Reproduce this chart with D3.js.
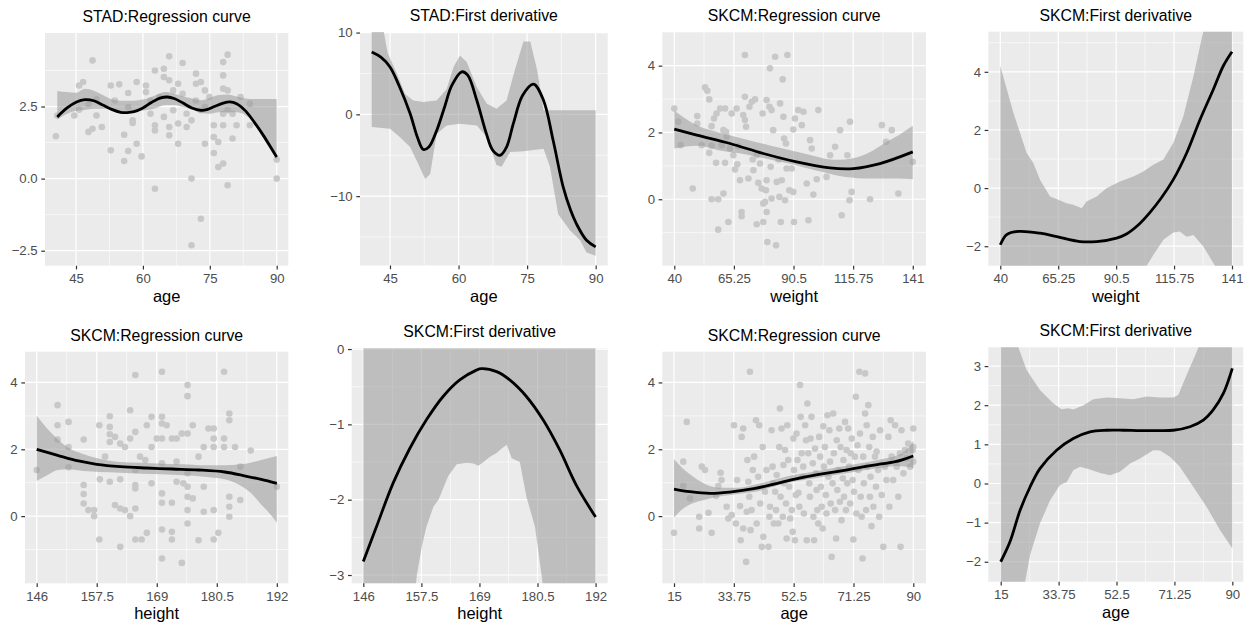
<!DOCTYPE html>
<html>
<head>
<meta charset="utf-8">
<title>Regression curves and first derivatives</title>
<script src="https://cdnjs.cloudflare.com/ajax/libs/d3/7.8.5/d3.min.js"></script>
<style>
  body { margin: 0; background: #fff; }
  .js-container { width: 1259px; height: 633px; }
  svg text { font-family: "Liberation Sans", Arial, Helvetica, sans-serif; }
</style>
</head>
<body>
<div class="js-container"></div>
<script>
;(function() {
  'use strict';

  // ---- STAD / age ----
  var stadAgePoints = [[40.5,1.47],[40.8,2.19],[44.6,2.19],[45.7,2.39],[45.7,3.23],[46.6,3.35],[47.8,2.6],[47.8,1.62],
    [48.7,4.1],[48.7,1.73],[49.6,2.19],[49.6,2.75],[50.8,1.79],[52.8,0.98],[52.8,3.23],[53.7,2.71],[54.7,3.27],
    [55.8,1.52],[55.8,0.61],[56.7,2.48],[56.7,0.96],[56.7,2.97],[57.7,2.02],[57.7,1.93],[58.6,3.35],[58.6,1.21],
    [59.7,0.77],[60.7,3.23],[60.7,3.0],[61.7,2.25],[61.7,2.71],[62.7,3.75],[62.7,1.85],[62.7,1.67],[62.7,-0.35],
    [63.7,2.83],[64.7,3.81],[64.7,3.52],[64.7,2.14],[65.9,4.24],[65.9,3.41],[65.9,1.79],[65.9,1.5],[66.8,2.37],
    [66.8,3.06],[67.9,3.29],[67.9,1.91],[67.9,1.21],[68.9,4.01],[68.9,2.94],[69.8,2.25],[69.8,1.79],[70.9,0.0],
    [70.9,-2.31],[70.9,2.02],[71.9,3.64],[71.9,3.29],[71.9,2.71],[73.0,3.35],[73.0,2.37],[73.0,-1.39],[73.9,1.21],
    [73.9,3.06],[73.9,2.48],[74.9,2.83],[75.9,1.85],[75.9,0.89],[75.9,1.44],[76.9,1.27],[76.9,0.4],[78.0,4.04],
    [78.0,3.58],[78.0,3.12],[78.0,0.52],[78.0,1.85],[78.0,2.25],[79.0,4.3],[79.0,-0.23],[79.0,3.06],[79.0,2.37],
    [80.1,2.25],[80.1,1.39],[81.0,1.85],[81.9,2.83],[84.0,2.6],[84.0,1.85],[90.0,0.66],[90.0,0.0]];
  var stadAgeFit = [[40.8,2.14],[43,2.45],[45,2.65],[47,2.74],[49,2.7],[51,2.55],[53,2.4],[55,2.3],[56.5,2.29],
    [58,2.32],[60,2.45],[62,2.65],[64,2.8],[65.5,2.83],[67,2.78],[69,2.62],[71,2.45],[73,2.37],[74.5,2.4],[76,2.5],
    [78,2.62],[79.5,2.66],[81,2.6],[83,2.35],[85,1.95],[87,1.5],[89,1.0],[90,0.75]];
  var stadAgeBandX = [40.8,43,45,47,49,51,53,55,57,59,61,63,65,67,69,71,73,75,77,79,81,83,85,87,89,90];
  var stadAgeBandHi = [3.04,3.0,2.98,3.12,3.05,2.9,2.75,2.7,2.7,2.72,2.78,2.9,3.0,2.95,2.85,2.78,2.72,2.8,2.9,2.92,
    2.85,2.78,2.76,2.76,2.76,2.76];
  var stadAgeBandLo = [2.05,2.25,2.35,2.38,2.42,2.42,2.38,2.33,2.32,2.35,2.38,2.45,2.55,2.55,2.48,2.4,2.28,2.25,2.3,
    2.3,2.3,2.2,1.9,1.4,0.9,0.65];
  var stadAgeDeriv = [[41,7.63],[43,7.0],[45,5.8],[47,3.5],[49.4,0.1],[51,-2.8],[52.3,-4.3],[53.5,-4.0],[55.2,-2],
    [57,1.0],[58.5,3.5],[60.7,5.2],[62,4.8],[64,1.7],[66,-2.2],[67.5,-4.4],[69.1,-5.0],[70.5,-4.0],[72,-1.1],
    [74,2.3],[76.4,3.7],[78.6,1.7],[80.7,-3.2],[82.9,-8.9],[84.5,-11.7],[85.8,-13.4],[88,-15.4],[90,-16.2]];
  var stadAgeDerivHi = [[41,11],[43.5,10.5],[44.5,7.5],[46.5,5],[48.3,2.5],[50.1,1.7],[52.3,1.5],[55.2,1.7],
    [57.4,3.1],[58.9,5.8],[60.3,7.2],[61.8,6.4],[64,3.3],[66.2,1.3],[68.3,0.7],[70.5,1.7],[72.3,5.4],[74.2,8.9],
    [75.7,8.9],[77.2,5.4],[78.6,0.5],[90,0.5]];
  var stadAgeDerivLo = [[41,-1.55],[45,-1.75],[47.2,-2.8],[49.4,-4],[50.8,-5.6],[52.7,-7.9],[53.8,-7.3],[55.2,-2.4],
    [57.4,-1.35],[60.3,-1.15],[64,-1.35],[66.2,-2.8],[68.3,-6.2],[69.4,-6.4],[71.3,-4.6],[74.2,-4.5],[78.6,-4.2],
    [80,-6.4],[81.8,-12.2],[84.4,-14.2],[86.6,-15.4],[88,-16.9],[90,-17.3]];

  // ---- SKCM / weight ----
  var skcmWeightPoints = [[40,2.72],[41.7,2.32],[42.7,1.62],[47.8,0.32],[49.7,2.49],[49.7,2.27],[51.6,1.62],
    [53.0,3.35],[54.0,3.25],[54.8,2.99],[54.8,1.39],[55.8,2.19],[55.8,1.6],[55.8,0.0],[56.8,2.42],[57.7,1.09],
    [57.9,2.57],[58.6,0.0],[58.6,-0.91],[59.4,2.72],[60.1,1.62],[60.8,2.07],[60.8,0.17],[61.5,2.72],[61.5,1.09],
    [61.9,2.02],[62.2,1.87],[62.9,-0.68],[63.6,1.52],[64.3,2.57],[65.0,1.32],[65.7,0.89],[66.4,2.72],[66.7,1.05],
    [67.1,1.59],[67.8,0.57],[68.5,-0.38],[68.5,-0.51],[69.2,2.52],[69.9,3.07],[69.9,4.32],[69.9,2.37],[70.4,2.17],
    [71.4,0.62],[71.8,2.77],[72.8,2.92],[73.2,1.19],[73.5,0.87],[74.2,2.99],[74.9,-0.75],[74.9,1.32],[75.6,0.49],
    [76.3,1.07],[77.0,0.32],[77.4,2.57],[77.7,-0.68],[77.7,-0.13],[78.4,-0.08],[78.8,0.27],[79.1,-0.38],[79.1,2.97],
    [79.1,0.57],[79.4,-1.28],[80.3,2.77],[80.5,3.92],[80.8,0.97],[81.2,0.02],[81.2,2.67],[81.9,2.07],[82.7,4.27],
    [83.1,-1.38],[83.4,0.52],[84.1,1.19],[84.5,0.07],[84.8,2.87],[85.1,-0.68],[85.5,0.57],[85.9,3.59],[86.2,2.47],
    [86.5,1.82],[86.9,-0.03],[87.3,1.67],[87.6,0.92],[87.9,4.32],[88.7,0.27],[89.7,0.92],[90.4,0.22],[90.4,2.09],
    [90.7,-0.68],[91.1,2.42],[92.5,2.67],[94.0,2.22],[94.7,2.62],[96.1,0.47],[96.8,-0.63],[97.5,1.77],[98.2,1.52],
    [98.9,0.14],[100.3,0.6],[101.0,2.67],[104.5,0.67],[106.0,1.32],[108.1,1.57],[110.2,2.07],[110.9,-0.48],
    [113.3,1.32],[114.4,2.32],[114.2,-0.03],[115.1,0.22],[122.9,0.0],[127.9,2.22],[129.7,1.72],[132.1,2.07],
    [134.9,0.17],[141.0,1.12]];
  var skcmWeightFit = [[40,2.1],[49.5,1.92],[63.6,1.67],[77.7,1.37],[91.8,1.12],[105.9,0.94],[115.8,0.92],
    [127.1,1.07],[141,1.42]];
  var skcmWeightBandX = [40,50,60,70,80,90,100,105,110,115,120,125,130,135,141];
  var skcmWeightBandHi = [2.65,2.2,1.98,1.8,1.62,1.45,1.28,1.2,1.18,1.22,1.32,1.5,1.72,1.92,2.2];
  var skcmWeightBandLo = [1.52,1.6,1.45,1.35,1.2,1.05,0.86,0.78,0.7,0.65,0.62,0.62,0.62,0.62,0.6];
  var skcmWeightDeriv = [[40,-1.95],[42.8,-1.6],[47.8,-1.49],[57.3,-1.55],[64.6,-1.67],[74.7,-1.84],[82,-1.84],
    [90.7,-1.72],[95,-1.58],[100,-1.28],[105,-0.86],[110,-0.36],[115.4,0.29],[121.2,1.2],[127.1,2.36],[132.9,3.4],
    [137.2,4.2],[141,4.69]];
  var skcmWeightDerivHi = [[40,4.2],[45.7,2.59],[51.5,1.21],[54.4,0.86],[57.3,0.29],[61.7,-0.29],[65.3,-0.4],
    [68.9,-0.52],[71.8,-0.57],[75.5,-0.69],[77.6,-0.46],[82,-0.29],[86.4,0],[92.2,0.23],[98,0.4],[102.4,0.57],
    [106.7,0.8],[111.1,0.98],[115.4,1.55],[119.8,2.47],[124.2,3.85],[128.5,5.4],[132,6.5],[141,8]];
  var skcmWeightDerivLo = [[40,-3.5],[100,-3.3],[103.8,-2.67],[106.7,-2.3],[111.1,-1.78],[115.4,-1.53],
    [118.3,-1.49],[121.2,-1.67],[124.2,-1.61],[128.5,-2.01],[133.6,-2.67],[136,-3.3],[141,-3.5]];

  // ---- SKCM / height ----
  var skcmHeightPoints = [[146,1.38],[150,3.32],[150,2.72],[150,2.29],[152.1,2.82],[152.1,2.07],[152.1,1.46],
    [155,2.29],[155,0.93],[155,0.66],[155,0.38],[155.9,0.18],[157,0.18],[157,0.0],[158,2.72],[158,-0.7],
    [158.1,1.1],[159.1,1.78],[160,2.99],[160,2.67],[160,2.45],[160,2.22],[160,1.03],[161,2.37],[161,0.33],
    [162,2.17],[162,1.1],[162,0.23],[162,-0.92],[162.9,2.07],[162.9,0.18],[163.9,3.17],[163.9,2.32],[163.9,0.0],
    [164.9,4.22],[164.9,2.52],[164.9,1.38],[164.9,0.93],[164.9,0.83],[164.9,0.23],[164.9,-0.7],[165.8,1.78],
    [166.1,-0.7],[166.8,1.68],[167.1,2.72],[167.1,-0.5],[168,2.97],[168,2.07],[168,0.98],[169,2.32],[170,4.32],
    [170,2.97],[170,2.77],[170,2.32],[170,1.58],[170,0.68],[170,0.4],[170,-0.4],[170,-1.27],[170.9,2.72],
    [171.9,2.32],[171.9,0.4],[171.9,-0.47],[171.9,-0.7],[172.8,2.32],[172.8,1.63],[172.8,1.03],[173.8,2.47],
    [173.8,-1.4],[174.1,0.98],[174.9,3.92],[174.9,3.59],[174.9,2.47],[174.9,1.28],[174.9,0.88],[174.9,0.58],
    [174.9,0.18],[174.9,-0.22],[175.9,2.72],[175.9,0.53],[177,-0.72],[177,1.78],[178,2.07],[178,0.88],[178,0.13],
    [178.9,2.62],[179.9,2.62],[179.9,2.32],[179.9,2.07],[179.9,0.18],[179.9,-0.7],[180.8,-0.5],[181.9,4.32],
    [181.9,2.32],[181.9,2.07],[182.9,3.07],[182.9,2.87],[182.9,0.58],[182.9,0.28],[182.9,-0.02],[184,2.07],
    [185,1.48],[185,0.48],[187,1.96],[192,0.88]];
  var skcmHeightFit = [[146,2.0],[150,1.82],[154,1.65],[157.5,1.55],[162,1.48],[167,1.44],[172,1.41],[177,1.38],
    [182,1.32],[186,1.2],[189,1.1],[192,0.98]];
  var skcmHeightBandX = [146,148,150,152,155,158,162,166,170,174,178,182,185,187,189,190.5,192];
  var skcmHeightBandHi = [3.0,2.62,2.3,2.05,1.85,1.72,1.62,1.6,1.57,1.55,1.52,1.52,1.55,1.6,1.68,1.74,1.8];
  var skcmHeightBandLo = [1.05,1.22,1.38,1.4,1.35,1.32,1.3,1.27,1.25,1.22,1.18,1.1,0.92,0.7,0.35,0.1,-0.2];
  var skcmHeightDeriv = [[146,-2.82],[148.6,-2.36],[151.9,-1.78],[155.2,-1.32],[158.5,-0.94],[161.8,-0.63],
    [165.1,-0.41],[168.4,-0.28],[169.4,-0.26],[172.4,-0.3],[175,-0.41],[178.3,-0.63],[181.6,-0.94],[184.9,-1.34],
    [188.2,-1.81],[192,-2.23]];
  var skcmHeightDerivHi = [[146,0.3],[192,0.3]];
  var skcmHeightDerivLo = [[146,-3.4],[156,-3.4],[156.6,-3.0],[157.6,-2.62],[158.5,-2.36],[159.9,-2.09],
    [160.9,-2.0],[161.8,-1.85],[162.8,-1.69],[164.5,-1.53],[166.5,-1.51],[167.8,-1.52],[168.8,-1.55],[169.8,-1.5],
    [171.1,-1.43],[172.4,-1.38],[173.4,-1.32],[174.4,-1.27],[175.4,-1.45],[177,-1.5],[178.3,-1.96],[180,-2.36],
    [181.3,-3.0],[182,-3.4],[192,-3.4]];

  // ---- SKCM / age ----
  var skcmAgePoints = [[15,-0.5],[17.9,1.63],[17.9,0.9],[19,2.82],[20,0.53],[22.9,-0.02],[22.9,-0.37],[23.7,1.48],
    [24.7,1.38],[25.8,0.1],[26.8,-0.5],[28.2,0.6],[28.9,0.9],[29.6,1.3],[29.9,1.08],[31.5,0.28],[32,-0.07],
    [33.1,0.03],[33.8,2.72],[34.4,-0.22],[34.8,1.08],[35.7,0.3],[35.9,-0.72],[36.2,2.37],[36.7,2.62],[36.7,-0.37],
    [37.6,-1.37],[37.8,0.13],[38,1.68],[38.3,1.03],[38.6,0.58],[38.8,4.32],[39,-0.42],[39.3,0.18],[39.7,1.38],
    [40.1,1.78],[40.7,2.87],[40.9,-0.22],[41.4,1.18],[41.7,2.72],[42,0.38],[42.5,-0.92],[42.8,2.07],[43,-0.62],
    [43.5,0.73],[44,1.38],[44.6,-0.92],[44.9,-0.02],[45.1,0.28],[45.6,2.57],[45.9,1.48],[46.1,0.98],[46.3,-0.22],
    [46.7,0.73],[47,0.18],[47.2,1.23],[47.7,-0.22],[48,2.07],[48.2,3.22],[48.4,0.58],[48.7,2.62],[49.1,-0.02],
    [49.3,1.53],[49.5,0.98],[49.8,1.98],[50.1,0.38],[50.3,-0.67],[50.5,2.72],[50.8,1.68],[51.1,0.88],[51.4,-0.07],
    [51.9,0.18],[52.2,-0.47],[52.4,2.32],[52.6,1.38],[52.9,-0.72],[53.2,0.63],[53.4,2.47],[53.7,1.68],[54,0.7],
    [54.3,0.28],[54.5,3.92],[54.7,2.97],[55,1.88],[55.3,1.18],[55.5,1.48],[55.7,0.08],[56.1,2.72],[56.4,2.27],
    [56.6,-0.72],[56.8,3.37],[57.1,1.88],[57.4,0.98],[57.6,0.58],[57.8,2.32],[58.1,2.97],[58.5,1.58],[58.7,-0.02],
    [58.9,-0.72],[59.2,2.02],[59.5,1.28],[59.7,0.78],[59.9,0.18],[60.2,-0.22],[60.5,2.37],[60.8,1.78],[61,0.88],
    [61.3,0.28],[61.6,-0.37],[61.8,2.69],[62,1.48],[62.3,2.07],[62.6,0.63],[62.8,0.08],[63.1,3.02],[63.4,1.18],
    [63.7,2.57],[63.9,1.63],[64.1,0.38],[64.4,-1.22],[64.7,0.98],[64.9,3.07],[65.1,1.88],[65.5,0.18],[65.8,-0.67],
    [66,2.27],[66.2,0.78],[66.5,1.38],[66.8,2.62],[67,0.43],[67.2,2.07],[67.5,-0.12],[67.9,1.13],[68.1,1.68],
    [68.3,0.58],[68.6,2.82],[68.9,0.18],[69.1,1.98],[69.3,0.98],[69.6,2.62],[69.9,1.48],[70.2,0.38],[70.4,1.88],
    [70.7,2.32],[71,1.08],[71.2,-0.7],[71.4,0.73],[71.7,1.78],[72,3.57],[72.2,0.08],[72.5,2.12],[72.8,1.38],
    [73.1,4.32],[73.3,2.47],[73.5,0.58],[73.8,-0.02],[74.1,-1.27],[74.3,1.78],[74.5,0.98],[74.9,4.27],[74.9,3.07],
    [75.2,0.18],[75.4,2.72],[75.6,1.48],[75.9,3.32],[76.2,2.07],[76.4,0.58],[76.6,1.18],[76.9,-0.3],[77.3,2.37],
    [77.5,0.28],[78,1.78],[78.3,0.88],[78.5,1.93],[79,1.38],[79.3,-0.02],[79.6,2.57],[80.1,0.63],[80.6,-0.92],
    [81.1,1.48],[81.6,1.08],[82.2,2.37],[82.5,0.28],[82.9,2.87],[83.2,1.78],[83.7,1.08],[84.3,2.72],[84.8,1.48],
    [85.3,0.58],[85.8,1.88],[86,-0.92],[86.3,2.57],[86.9,1.28],[87.4,1.98],[87.9,1.73],[88.4,2.17],[89,1.48],
    [89.8,1.98],[90,2.62],[90,2.07],[90,1.63]];
  var skcmAgeFit = [[15,0.81],[20,0.73],[26.3,0.68],[32.5,0.72],[40,0.82],[46,0.95],[52.5,1.1],[60,1.24],[66,1.33],
    [71.25,1.42],[76,1.5],[80,1.56],[84,1.62],[87,1.7],[90,1.8]];
  var skcmAgeBandX = [15,17.5,20,25,30,35,40,50,60,70,80,85,88,90];
  var skcmAgeBandHi = [1.7,1.45,1.25,0.95,0.85,0.85,0.93,1.18,1.35,1.52,1.7,1.82,2.0,2.25];
  var skcmAgeBandLo = [-0.05,0.2,0.35,0.5,0.6,0.66,0.72,0.98,1.15,1.3,1.45,1.5,1.48,1.45];
  var skcmAgeDeriv = [[15,-2.0],[18,-1.49],[21.3,-0.68],[24.5,-0.09],[27.7,0.38],[33.1,0.85],[38.5,1.15],
    [43.9,1.32],[49.3,1.36],[54.7,1.36],[60.1,1.35],[65.5,1.35],[70.9,1.36],[76.3,1.45],[80.6,1.62],[83.8,1.88],
    [87.1,2.3],[90,2.94]];
  var skcmAgeDerivHi = [[15,4.2],[20.7,3.48],[23.4,2.9],[27.7,2.39],[32,2.05],[34.7,1.9],[36.9,1.92],[38.5,1.89],
    [41.8,2.0],[45,2.15],[49.3,2.2],[54.7,2.17],[57.9,2.15],[62.3,2.22],[66.6,2.2],[70.9,2.2],[72.5,2.26],
    [75.2,2.77],[78.5,3.37],[80,3.7],[90,4.0]];
  var skcmAgeDerivLo = [[15,-3.2],[22,-3.0],[22.9,-2.51],[24.5,-1.83],[27.7,-1.02],[31,-0.43],[34.2,-0.04],
    [36.4,0.04],[38.5,0.34],[40.7,0.43],[43.9,0.36],[47.2,0.27],[50.4,0.21],[53.6,0.3],[56.9,0.51],[60.1,0.64],
    [64.4,0.85],[66.6,0.84],[69.8,0.68],[73,0.43],[77.4,-0.09],[81.7,-0.6],[86,-1.19],[90,-1.66]];

  // ---- tick breaks ----
  var ageTicksStad = [45, 60, 75, 90];
  var ageMinorStad = [52.5, 67.5, 82.5];
  var weightTicks = [40, 65.25, 90.5, 115.75, 141];
  var weightMinor = [52.625, 77.875, 103.125, 128.375];
  var heightTicks = [146, 157.5, 169, 180.5, 192];
  var heightMinor = [151.75, 163.25, 174.75, 186.25];
  var ageTicksSkcm = [15, 33.75, 52.5, 71.25, 90];
  var ageMinorSkcm = [24.375, 43.125, 61.875, 80.625];

  var titles = ['STAD:Regression curve', 'STAD:First derivative', 'SKCM:Regression curve', 'SKCM:First derivative',
    'SKCM:Regression curve', 'SKCM:First derivative', 'SKCM:Regression curve', 'SKCM:First derivative'];
  var xTitles = ['age', 'age', 'weight', 'weight', 'height', 'height', 'age', 'age'];

  // Panel frames [left, top, right, bottom] and axis limits.
  var panels = [
    { box: [45, 33, 288.3, 265.7], xd: [38.05, 92.6], yd: [-3.02, 5.05],
      xt: ageTicksStad, xm: ageMinorStad, yt: [-2.5, 0, 2.5], ym: [-1.25, 1.25, 3.75], yf: d3.format('.1f'),
      points: stadAgePoints, fit: stadAgeFit, bandX: stadAgeBandX, bandHi: stadAgeBandHi, bandLo: stadAgeBandLo },
    { box: [360, 32, 607.7, 265.5], xd: [38.44, 92.63], yd: [-18.48, 10.07],
      xt: ageTicksStad, xm: ageMinorStad, yt: [-10, 0, 10], ym: [-15, -5, 5], yf: d3.format('d'),
      fit: stadAgeDeriv, hi: stadAgeDerivHi, lo: stadAgeDerivLo },
    { box: [662.3, 32.3, 926, 265.7], xd: [34.92, 146.6], yd: [-1.99, 5.0],
      xt: weightTicks, xm: weightMinor, yt: [0, 2, 4], ym: [-1, 1, 3], yf: d3.format('d'),
      points: skcmWeightPoints, fit: skcmWeightFit, bandX: skcmWeightBandX, bandHi: skcmWeightBandHi,
      bandLo: skcmWeightBandLo },
    { box: [988.3, 31.7, 1243.3, 265.7], xd: [34.77, 145.93], yd: [-2.67, 5.38],
      xt: weightTicks, xm: weightMinor, yt: [-2, 0, 2, 4], ym: [-1, 1, 3, 5], yf: d3.format('d'),
      fit: skcmWeightDeriv, hi: skcmWeightDerivHi, lo: skcmWeightDerivLo },
    { box: [25, 351.7, 288.3, 583.3], xd: [143.76, 194.2], yd: [-2.01, 4.92],
      xt: heightTicks, xm: heightMinor, yt: [0, 2, 4], ym: [-1, 1, 3], yf: d3.format('d'),
      points: skcmHeightPoints, fit: skcmHeightFit, bandX: skcmHeightBandX, bandHi: skcmHeightBandHi,
      bandLo: skcmHeightBandLo },
    { box: [351.7, 348.3, 607.7, 583.3], xd: [143.7, 194.4], yd: [-3.11, 0.01],
      xt: heightTicks, xm: heightMinor, yt: [-3, -2, -1, 0], ym: [-2.5, -1.5, -0.5], yf: d3.format('d'),
      fit: skcmHeightDeriv, hi: skcmHeightDerivHi, lo: skcmHeightDerivLo },
    { box: [662.3, 351.7, 926, 583.3], xd: [11.33, 93.98], yd: [-2.01, 4.92],
      xt: ageTicksSkcm, xm: ageMinorSkcm, yt: [0, 2, 4], ym: [-1, 1, 3], yf: d3.format('d'),
      points: skcmAgePoints, fit: skcmAgeFit, bandX: skcmAgeBandX, bandHi: skcmAgeBandHi, bandLo: skcmAgeBandLo },
    { box: [988.3, 347.3, 1243.3, 581.7], xd: [10.98, 93.56], yd: [-2.51, 3.48],
      xt: ageTicksSkcm, xm: ageMinorSkcm, yt: [-2, -1, 0, 1, 2, 3], ym: [-1.5, -0.5, 0.5, 1.5, 2.5],
      yf: d3.format('d'), fit: skcmAgeDeriv, hi: skcmAgeDerivHi, lo: skcmAgeDerivLo }
  ];

  var svg = d3.select('.js-container').append('svg')
              .attr('width', 1259)
              .attr('height', 633);

  svg.append('rect')
      .attr('width', 1259)
      .attr('height', 633)
      .attr('fill', '#ffffff');

  panels.forEach(drawPanel);

  /**
   * Draws one ggplot-style panel: background, grid, data, axes and titles.
   */
  function drawPanel(p, idx) {
    var left = p.box[0], top = p.box[1], right = p.box[2], bottom = p.box[3];

    var x = d3.scaleLinear().domain(p.xd).range([left, right]);
    var y = d3.scaleLinear().domain(p.yd).range([bottom, top]);

    var g = svg.append('g').classed('panel-' + idx, true);

    svg.append('clipPath')
        .attr('id', 'clip-' + idx)
      .append('rect')
        .attr('x', left)
        .attr('y', top)
        .attr('width', right - left)
        .attr('height', bottom - top);

    g.append('rect')
        .attr('x', left)
        .attr('y', top)
        .attr('width', right - left)
        .attr('height', bottom - top)
        .attr('fill', '#ebebeb');

    // minor then major grid lines
    g.selectAll('.xminor').data(p.xm).enter().append('line')
        .attr('x1', function(d) { return x(d); })
        .attr('x2', function(d) { return x(d); })
        .attr('y1', top).attr('y2', bottom)
        .attr('stroke', '#ffffff').attr('stroke-width', 0.6);
    g.selectAll('.yminor').data(p.ym).enter().append('line')
        .attr('y1', function(d) { return y(d); })
        .attr('y2', function(d) { return y(d); })
        .attr('x1', left).attr('x2', right)
        .attr('stroke', '#ffffff').attr('stroke-width', 0.6);
    g.selectAll('.xmajor').data(p.xt).enter().append('line')
        .attr('x1', function(d) { return x(d); })
        .attr('x2', function(d) { return x(d); })
        .attr('y1', top).attr('y2', bottom)
        .attr('stroke', '#ffffff').attr('stroke-width', 1.2);
    g.selectAll('.ymajor').data(p.yt).enter().append('line')
        .attr('y1', function(d) { return y(d); })
        .attr('y2', function(d) { return y(d); })
        .attr('x1', left).attr('x2', right)
        .attr('stroke', '#ffffff').attr('stroke-width', 1.2);

    var inner = g.append('g').attr('clip-path', 'url(#clip-' + idx + ')');

    if (p.points) {
      inner.selectAll('circle').data(p.points).enter().append('circle')
          .attr('cx', function(d) { return x(d[0]); })
          .attr('cy', function(d) { return y(d[1]); })
          .attr('r', 3.3)
          .attr('fill', '#c8c8c8');
    }

    var band;
    if (p.bandX) {
      band = d3.area()
          .x(function(d, i) { return x(p.bandX[i]); })
          .y0(function(d, i) { return y(p.bandLo[i]); })
          .y1(function(d, i) { return y(p.bandHi[i]); })
          .curve(d3.curveMonotoneX)(p.bandX);
    } else {
      band = d3.line()
          .x(function(d) { return x(d[0]); })
          .y(function(d) { return y(d[1]); })(p.hi.concat(p.lo.slice().reverse())) + 'Z';
    }
    inner.append('path')
        .attr('d', band)
        .attr('fill', '#999999')
        .attr('fill-opacity', 0.55);

    inner.append('path')
        .datum(p.fit)
        .attr('d', d3.line()
            .x(function(d) { return x(d[0]); })
            .y(function(d) { return y(d[1]); })
            .curve(d3.curveCatmullRom.alpha(0.5)))
        .attr('fill', 'none')
        .attr('stroke', '#000000')
        .attr('stroke-width', 2.8)
        .attr('stroke-linecap', 'butt');

    // axes
    var xAxis = g.append('g')
        .attr('transform', 'translate(0,' + bottom + ')')
        .call(d3.axisBottom(x)
            .tickValues(p.xt)
            .tickFormat(function(d) { return String(d); })
            .tickSizeOuter(0)
            .tickSize(3.7)
            .tickPadding(4.4));
    var yAxis = g.append('g')
        .attr('transform', 'translate(' + left + ',0)')
        .call(d3.axisLeft(y)
            .tickValues(p.yt)
            .tickFormat(function(d) { return p.yf(d).replace('-', '\u2212'); })
            .tickSizeOuter(0)
            .tickSize(3.7)
            .tickPadding(3.6));

    [xAxis, yAxis].forEach(function(ax) {
      ax.select('.domain').remove();
      ax.selectAll('.tick line').attr('stroke', '#333333').attr('stroke-width', 1.2);
      ax.selectAll('.tick text')
          .attr('fill', '#4d4d4d')
          .style('font-size', '13.2px')
          .style('font-family', '"Liberation Sans", Arial, sans-serif');
    });

    g.append('text')
        .attr('x', (left + right) / 2)
        .attr('y', top - 11)
        .attr('text-anchor', 'middle')
        .style('font-size', '15.8px')
        .attr('fill', '#000000')
        .text(titles[idx]);

    g.append('text')
        .attr('x', (left + right) / 2)
        .attr('y', bottom + 36)
        .attr('text-anchor', 'middle')
        .style('font-size', '16.5px')
        .attr('fill', '#000000')
        .text(xTitles[idx]);
  }

}());
</script>
</body>
</html>
